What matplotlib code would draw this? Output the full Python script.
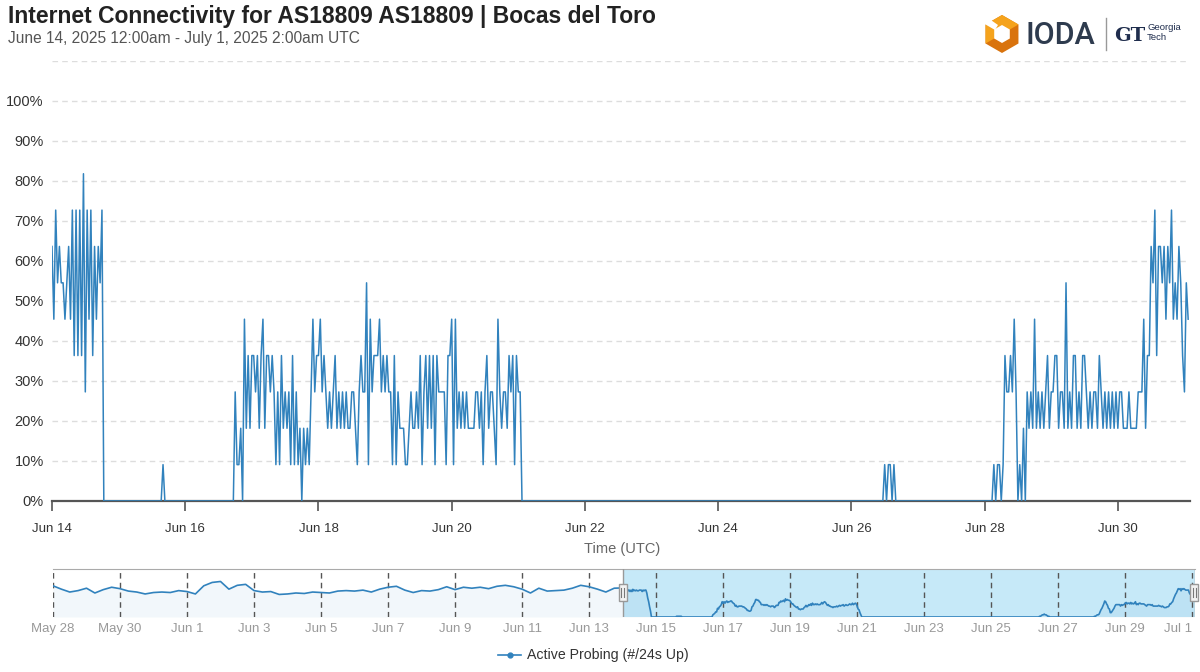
import numpy as np
import pandas as pd
import matplotlib
matplotlib.use("Agg")
import matplotlib.pyplot as plt
import matplotlib.dates as mdates
from matplotlib.patches import Polygon, Rectangle

plt.rcParams['font.family'] = ['Liberation Sans', 'DejaVu Sans']

# ---------------- text ----------------
title = "Internet Connectivity for AS18809 AS18809 | Bocas del Toro"
subtitle = "June 14, 2025 12:00am - July 1, 2025 2:00am UTC"
x_title = "Time (UTC)"
series_label = "Active Probing (#/24s Up)"

# ---------------- data ----------------
# Active probing: number of /24 blocks up (out of 11 probed), one value per 40 min,
# starting June 14, 2025 00:00 UTC.
start = pd.Timestamp("2025-06-14 00:00")
end = pd.Timestamp("2025-07-01 02:00")
step_minutes = 40
blocks_total = 11

jun14_burst = "7586766567584848493858475768"
quiet_jun14_15 = "0" * 32
jun15_blip = "1"
quiet_jun15_16 = "0" * 38
jun16_21 = ("3112052424" "43424524" "434313142" "323141312"
            "0212135344" "5343232342" "3232322332" "1343361534"
            "4453434331" "4132221123" "2232413424" "2414333314"
            "4515232323" "2222332313" "4233215323" "324341433")
quiet_jun21_26 = "0" * 196
jun26_blip = "101101"
quiet_jun26_28 = "0" * 53
jun28_jul1 = ("1011014334" "35301020" "323252323" "234233442"
              "3326232442" "3244323233" "2432323" "232323322"
              "2322223335" "2447684776" "75768" "565764365")

# Navigator history (percent up), 6-hourly, May 28 00:00 -> Jun 13 18:00
nav_start = pd.Timestamp("2025-05-28 00:00")
nav_history = [65, 58, 52, 55, 60, 50, 57, 62, 59, 54, 52, 48, 51, 52, 51, 55,
               53, 48, 65, 72, 74, 58, 66, 68, 55, 52, 53, 47, 48, 50, 49, 52,
               51, 50, 54, 55, 54, 56, 52, 58, 62, 64, 56, 51, 55, 54, 57, 63,
               57, 62, 60, 62, 59, 64, 66, 63, 58, 50, 60, 54, 55, 56, 60, 66,
               63, 58, 52, 60]

main_ticks = pd.date_range("2025-06-14", "2025-06-30", freq="2D")
nav_ticks = pd.date_range("2025-05-28", "2025-07-01", freq="2D")

# ---------------- build series ----------------
codes = (jun14_burst + quiet_jun14_15 + jun15_blip + quiet_jun15_16 + jun16_21 +
         quiet_jun21_26 + jun26_blip + quiet_jun26_28 + jun28_jul1)
counts = np.array([int(c) for c in codes])
pct = counts * 100.0 / blocks_total
times = start + pd.to_timedelta(np.arange(len(pct)) * step_minutes, unit="min")

recent = pd.Series(pct, index=times).rolling(6, center=True, min_periods=1).mean()
hist_times = nav_start + pd.to_timedelta(np.arange(len(nav_history)) * 6, unit="h")
nav_series = pd.concat([pd.Series(nav_history, index=hist_times, dtype=float), recent])

LINE = "#3182bd"

fig = plt.figure(figsize=(12, 6.72), dpi=100)
W, H = 1200, 672

def fbox(l, t, r, b):
    return [l / W, 1 - b / H, (r - l) / W, (b - t) / H]

# ---------------- main axes ----------------
ax = fig.add_axes(fbox(52, 61, 1190, 501))
ax.set_xlim(start, end)
ax.set_ylim(0, 110)
for y in range(10, 111, 10):
    ax.axhline(y, color="#dddddd", lw=1, ls=(0, (4, 3)), zorder=0)
ax.plot(times, pct, color=LINE, lw=1.1, zorder=3)
ax.set_yticks(range(0, 101, 10))
ax.set_yticklabels([f"{v}%" for v in range(0, 101, 10)])
ax.set_xticks(main_ticks)
ax.set_xticklabels([f"{d:%b} {d.day}" for d in main_ticks])
ax.tick_params(axis="y", length=0, labelsize=10.5, labelcolor="#333333", pad=6)
ax.tick_params(axis="x", direction="out", length=7, width=1.2, color="#555555",
               labelsize=9.5, labelcolor="#333333", pad=9)
for s in ("top", "right", "left"):
    ax.spines[s].set_visible(False)
ax.spines["bottom"].set_color("#555555")
ax.spines["bottom"].set_linewidth(1.6)

fig.text(622 / W, 1 - 549 / H, x_title, ha="center", va="center",
         fontsize=10.5, color="#666666")
fig.text(8 / W, 1 - 16 / H, title, ha="left", va="center", fontsize=16.5,
         fontweight="bold", color="#222222")
fig.text(8 / W, 1 - 38 / H, subtitle, ha="left", va="center", fontsize=11.2,
         color="#555555")

# ---------------- navigator ----------------
nav = fig.add_axes(fbox(53, 569, 1195, 617))
nav.set_xlim(nav_start, end)
nav.set_ylim(0, 100)
nav.axvspan(start, end, color="#c6e9f8", zorder=0, lw=0)
nav.fill_between(nav_series.index, 0, nav_series.values, color=LINE, alpha=0.06,
                 lw=0, zorder=1)
nav.plot(nav_series.index, nav_series.values, color=LINE, lw=1.2, zorder=3)
nav.set_xticks(nav_ticks)
labels = nav.set_xticklabels([f"{d:%b} {d.day}" for d in nav_ticks])
labels[-1].set_horizontalalignment("right")
nav.grid(axis="x", color="#555555", ls=(0, (4, 3)), lw=1)
nav.set_yticks([])
nav.tick_params(axis="x", length=0, labelsize=9.5, labelcolor="#999999", pad=4)
for s in ("bottom", "left", "right"):
    nav.spines[s].set_visible(False)
nav.spines["top"].set_color("#aaaaaa")
nav.axvline(start, color="#999999", lw=1, zorder=4)
nav.axvline(end, color="#999999", lw=1, zorder=4)

# ---------------- overlay (logo, legend, handles) ----------------
ov = fig.add_axes([0, 0, 1, 1])
ov.set_xlim(0, W)
ov.set_ylim(H, 0)
ov.axis("off")
ov.patch.set_visible(False)

for t in (start, end):
    px = nav.transData.transform((mdates.date2num(t), 0))[0]
    px = min(px, 1194)
    ov.add_patch(Rectangle((px - 4, 584), 8, 17, fc="#f2f2f2", ec="#999999", lw=1, zorder=5))
    ov.plot([px - 1.5, px - 1.5], [588, 597], color="#777777", lw=0.8, zorder=6)
    ov.plot([px + 1.5, px + 1.5], [588, 597], color="#777777", lw=0.8, zorder=6)

# legend
ov.plot([498, 521], [655, 655], color=LINE, lw=1.2)
ov.plot([509.5], [655], marker="o", ms=3.5, color=LINE)
ov.text(527, 655, series_label, ha="left", va="center", fontsize=10.2, color="#333333")

# IODA logo
cx, cy = 1002, 34
def hexpts(r, cx=cx, cy=cy):
    ang = np.deg2rad(np.arange(-90, 270, 60))
    return np.column_stack([cx + r * np.cos(ang), cy + r * np.sin(ang)])
outer = hexpts(19)
ov.add_patch(Polygon(outer, closed=True, fc="#d9730d", ec="none"))
upper = np.vstack([outer[[4, 5, 0, 1]], [[cx, cy]]])
ov.add_patch(Polygon(upper, closed=True, fc="#f5a31c", ec="none"))
ov.add_patch(Polygon(hexpts(9), closed=True, fc="white", ec="none"))
ov.add_patch(Polygon([[cx - 19, cy - 11], [cx - 7, cy - 4], [cx - 4, cy - 9], [cx - 14, cy - 16]],
                     closed=True, fc="white", ec="none"))
ov.text(1026, 35, "IODA", ha="left", va="center", fontsize=22, color="#2e3b4e",
        family=["Roboto", "Liberation Sans"], fontweight="medium")
ov.plot([1106, 1106], [18, 50], color="#999999", lw=1)
ov.text(1114, 36, "GT", ha="left", va="center", fontsize=14, fontweight="bold",
        family="DejaVu Serif", color="#1f2d4d")
ov.text(1147, 28, "Georgia", ha="left", va="center", fontsize=6.8, color="#1f2d4d")
ov.text(1147, 38, "Tech", ha="left", va="center", fontsize=6.8, color="#1f2d4d")

fig.savefig("out.png", dpi=100)
